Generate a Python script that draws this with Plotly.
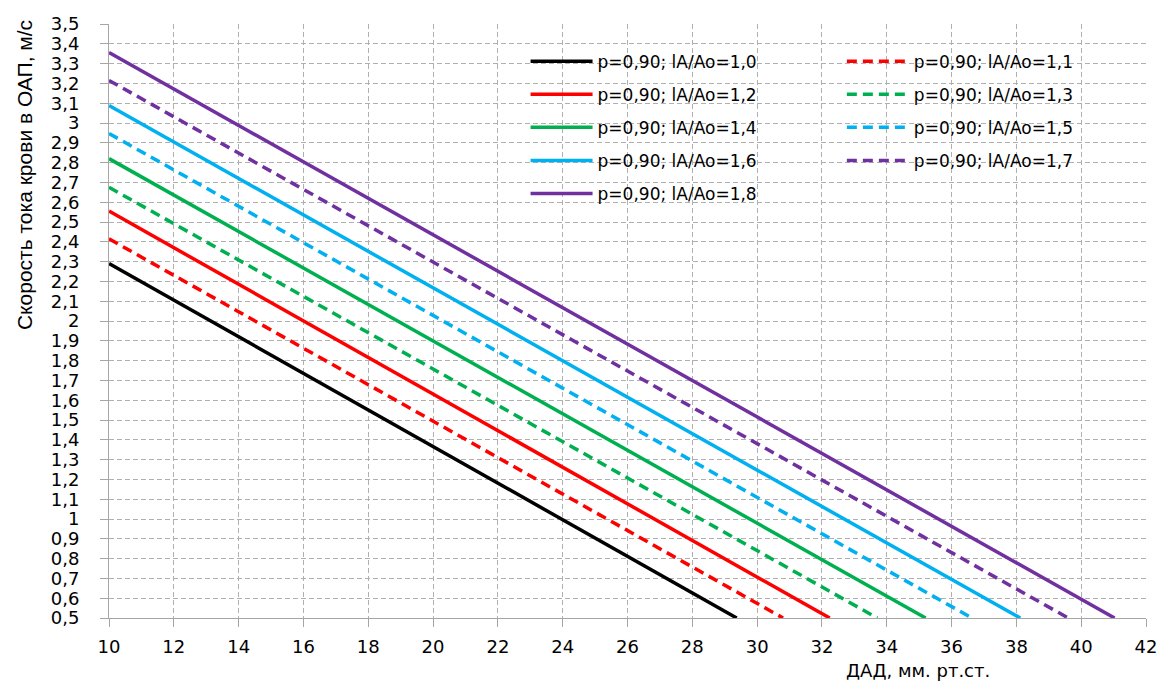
import plotly.graph_objects as go

# Data: each line is straight, from x=10 down to y=0.5
labels = ["p=0,90; lA/Ao=1,0", "p=0,90; lA/Ao=1,1", "p=0,90; lA/Ao=1,2",
          "p=0,90; lA/Ao=1,3", "p=0,90; lA/Ao=1,4", "p=0,90; lA/Ao=1,5",
          "p=0,90; lA/Ao=1,6", "p=0,90; lA/Ao=1,7", "p=0,90; lA/Ao=1,8"]
x_start = [10, 10, 10, 10, 10, 10, 10, 10, 10]
y_start = [2.29, 2.415, 2.555, 2.675, 2.82, 2.947, 3.088, 3.215, 3.356]
x_end = [29.37, 30.80, 32.24, 33.71, 35.20, 36.63, 38.12, 39.60, 41.03]
y_end = [0.5, 0.5, 0.5, 0.5, 0.5, 0.5, 0.5, 0.5, 0.5]

colors = ["#000000", "#FF0000", "#FF0000", "#00B050", "#00B050",
          "#00B0F0", "#00B0F0", "#7030A0", "#7030A0"]
dashed = [False, True, False, True, False, True, False, True, False]

x_ticks = [10, 12, 14, 16, 18, 20, 22, 24, 26, 28, 30, 32, 34, 36, 38, 40, 42]
y_tickvals = [0.5, 0.6, 0.7, 0.8, 0.9, 1.0, 1.1, 1.2, 1.3, 1.4, 1.5, 1.6, 1.7, 1.8,
              1.9, 2.0, 2.1, 2.2, 2.3, 2.4, 2.5, 2.6, 2.7, 2.8, 2.9, 3.0, 3.1,
              3.2, 3.3, 3.4, 3.5]
y_ticktext = ["0,5", "0,6", "0,7", "0,8", "0,9", "1", "1,1", "1,2", "1,3", "1,4",
              "1,5", "1,6", "1,7", "1,8", "1,9", "2", "2,1", "2,2", "2,3", "2,4",
              "2,5", "2,6", "2,7", "2,8", "2,9", "3", "3,1", "3,2", "3,3", "3,4", "3,5"]

x_title = "ДАД, мм. рт.ст."
y_title = "Скорость тока крови в ОАП, м/с"

FONT = "DejaVu Sans, Verdana, sans-serif"

fig = go.Figure()
for i in range(len(labels)):
    fig.add_trace(go.Scatter(
        x=[x_start[i], x_end[i]], y=[y_start[i], y_end[i]],
        mode="lines", name=labels[i],
        line=dict(color=colors[i], width=3.5,
                  dash="10px,6px" if dashed[i] else "solid"),
        legend="legend2" if dashed[i] else "legend",
        legendgroup="g%d" % i,
        hoverinfo="skip",
    ))

axis_style = dict(showgrid=True, gridcolor="#B0B0B0", griddash="5px,3px", gridwidth=1,
                  showline=True, linecolor="#A6A6A6", linewidth=1,
                  ticks="outside", ticklen=8, tickcolor="#A6A6A6",
                  tickfont=dict(family=FONT, size=18, color="#000000"),
                  zeroline=False)

legend_style = dict(yanchor="top", xanchor="left", bgcolor="rgba(0,0,0,0)",
                    borderwidth=0, itemwidth=62, tracegroupgap=8,
                    font=dict(family=FONT, size=17, color="#000000"))

fig.update_layout(
    width=1169, height=684,
    margin=dict(l=109, r=16, t=24, b=66),
    paper_bgcolor="white", plot_bgcolor="white",
    showlegend=True,
    xaxis=dict(range=[10, 42], tickvals=x_ticks, ticklabelstandoff=4, **axis_style),
    yaxis=dict(range=[0.5, 3.5], tickvals=y_tickvals, ticktext=y_ticktext,
               ticklabelstandoff=17, **axis_style),
    legend=dict(x=0.4017, y=0.967, **legend_style),
    legend2=dict(x=0.7067, y=0.967, **legend_style),
    shapes=[dict(type="rect", xref="paper", yref="paper",
                 x0=0.381, x1=0.990, y0=0.678, y1=0.963,
                 fillcolor="white", line=dict(width=0), layer="between")],
    annotations=[
        dict(text=x_title, xref="paper", yref="paper", x=0.7797, y=-0.088,
             xanchor="center", yanchor="middle", showarrow=False,
             font=dict(family=FONT, size=18, color="#000000")),
        dict(text=y_title, xref="paper", yref="paper", x=-0.0814, y=0.745,
             xanchor="center", yanchor="middle", showarrow=False, textangle=-90,
             font=dict(family="Liberation Sans, Arial, sans-serif",
                       size=21, color="#000000")),
    ],
)

fig.write_html("out.html",
               config={"displayModeBar": False},
               post_script="document.body.style.margin='0';document.body.style.overflow='hidden';")
